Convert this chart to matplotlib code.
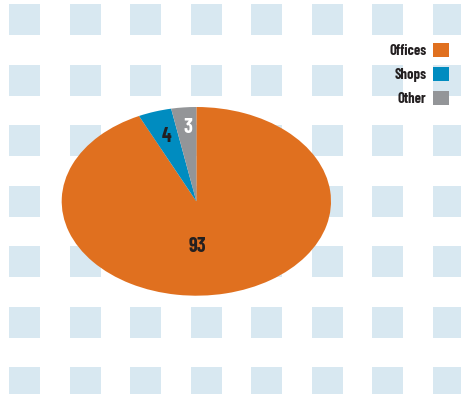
import numpy as np
import matplotlib.pyplot as plt
from matplotlib.patches import Rectangle

labels = ["Offices", "Shops", "Other"]
values = [93, 4, 3]
colors = ["#E0701F", "#008CC0", "#939598"]
value_colors = ["#231F20", "#231F20", "#FFFFFF"]

W, H = 461, 394
fig = plt.figure(figsize=(W / 100, H / 100), dpi=100)
fig.patch.set_facecolor("white")

font = dict(family=["Barlow Condensed", "DejaVu Sans"], weight=700)

# tiled squares in the background, laid out in pixel units
bg = fig.add_axes([0, 0, 1, 1])
bg.set_xlim(0, W)
bg.set_ylim(H, 0)
bg.axis("off")
pitch, size = 60.5, 31
for x0 in np.arange(9, W, pitch):
    for y0 in np.arange(4, H, pitch):
        bg.add_patch(Rectangle((x0, y0), size, size, color="#D8E8F1", lw=0))

# pie stretched into an ellipse by letting the axes aspect float
left, right, top, bottom = 61.7, 331, 107, 295.7
ax = fig.add_axes([left / W, 1 - bottom / H, (right - left) / W, (bottom - top) / H])
wedges, _, pcts = ax.pie(
    values,
    colors=colors,
    startangle=90,
    counterclock=False,
    autopct=lambda p: f"{p:.0f}",
    pctdistance=0.72,
    wedgeprops=dict(linewidth=0),
    textprops=dict(fontsize=14.5, **font),
)
for t, c in zip(pcts, value_colors):
    t.set_color(c)
pcts[0].set_position((0.01, -0.48))
pcts[2].set_position((-0.06, 0.78))
ax.set_aspect("auto")
ax.set_xlim(-1, 1)
ax.set_ylim(-1, 1)

fs = 10.5
fig.legend(
    wedges,
    labels,
    loc="upper right",
    bbox_to_anchor=(449 / W, 1 - 43 / H),
    frameon=False,
    markerfirst=False,
    handlelength=16 / (fs * 100 / 72),
    handleheight=16 / (fs * 100 / 72),
    handletextpad=0.45,
    labelspacing=0.62,
    borderpad=0,
    borderaxespad=0,
    prop=dict(size=fs, **font),
    labelcolor="#231F20",
)

fig.savefig("out.png", dpi=100)
